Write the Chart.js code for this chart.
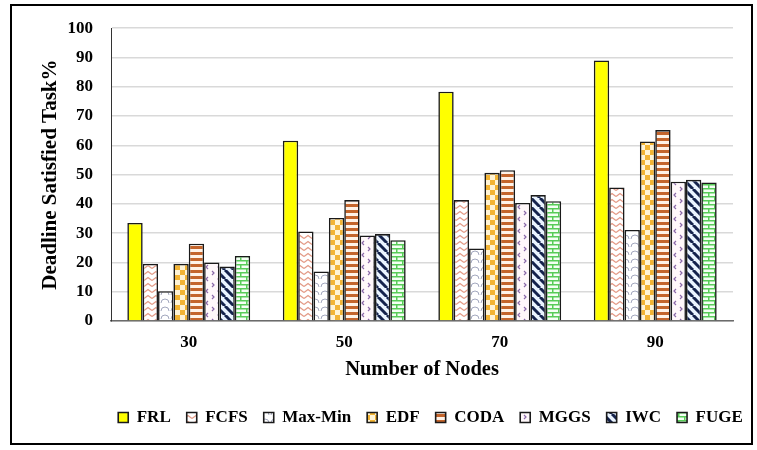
<!DOCTYPE html>
<html>
<head>
<meta charset="utf-8">
<script src="https://cdn.jsdelivr.net/npm/chart.js@4/dist/chart.umd.min.js"></script>
<style>
  html, body { margin: 0; padding: 0; background: #fff; }
  #wrap { width: 757px; height: 450px; position: relative; }
</style>
</head>
<body>
<div id="wrap"><canvas id="c" width="757" height="450"></canvas></div>
<script>
// Node counts on the x axis
const nodeCounts = ['30', '50', '70', '90'];

// Deadline satisfied task percentage per scheduler
const frl    = [33.5, 61.6, 78.3, 89.0];
const fcfs   = [19.5, 30.6, 41.3, 45.6];
const maxMin = [10.2, 16.9, 24.8, 31.1];
const edf    = [19.5, 35.2, 50.6, 61.3];
const coda   = [26.4, 41.3, 51.5, 65.2];
const mggs   = [20.0, 29.2, 40.3, 47.6];
const iwc    = [18.6, 29.7, 43.0, 48.2];
const fuge   = [22.2, 27.6, 40.9, 47.3];

const yMin = 0, yMax = 100, yStep = 10;

const FONT = "'Liberation Serif', 'Times New Roman', serif";
const canvas = document.getElementById('c');
const mainCtx = canvas.getContext('2d');

function makePattern(w, h, draw) {
  const c = document.createElement('canvas');
  c.width = w; c.height = h;
  const g = c.getContext('2d');
  draw(g, w, h);
  return mainCtx.createPattern(c, 'repeat');
}

// Fill patterns for each series
const zigzag = makePattern(8, 6, (g, w, h) => {
  g.fillStyle = '#fff'; g.fillRect(0, 0, w, h);
  g.strokeStyle = '#E39A86'; g.lineWidth = 1.3;
  g.beginPath(); g.moveTo(0, 4.5); g.lineTo(4, 1.5); g.lineTo(8, 4.5); g.stroke();
});
const scallop = makePattern(10, 8, (g, w, h) => {
  g.fillStyle = '#fff'; g.fillRect(0, 0, w, h);
  g.strokeStyle = '#A3A8BE'; g.lineWidth = 1;
  g.beginPath(); g.arc(5, 7, 4, Math.PI, 0); g.stroke();
});
const checker = makePattern(10, 10, (g, w, h) => {
  g.fillStyle = '#FFF4D6'; g.fillRect(0, 0, w, h);
  g.fillStyle = '#F2B435';
  g.fillRect(0, 0, 5, 5); g.fillRect(5, 5, 5, 5);
});
const hStripes = makePattern(4, 6, (g, w, h) => {
  g.fillStyle = '#FFF3E8'; g.fillRect(0, 0, w, h);
  g.fillStyle = '#C4652C'; g.fillRect(0, 0, w, 3);
});
const dots = makePattern(12, 12, (g, w, h) => {
  g.fillStyle = '#FFF8FA'; g.fillRect(0, 0, w, h);
  g.strokeStyle = '#8A68A8'; g.lineWidth = 1.2;
  g.beginPath(); g.moveTo(4, 1); g.lineTo(2, 3); g.lineTo(4, 5); g.stroke();
  g.beginPath(); g.moveTo(8, 7); g.lineTo(10, 9); g.lineTo(8, 11); g.stroke();
});
const diag = makePattern(9, 9, (g, w, h) => {
  g.fillStyle = '#EAF4FF'; g.fillRect(0, 0, w, h);
  g.strokeStyle = '#14224C'; g.lineWidth = 3;
  for (const k of [-9, 0, 9]) {
    g.beginPath(); g.moveTo(k, 0); g.lineTo(k + 9, 9); g.stroke();
  }
});
const bricks = makePattern(12, 8, (g, w, h) => {
  g.fillStyle = '#F4FFF4'; g.fillRect(0, 0, w, h);
  g.fillStyle = '#58CC58';
  g.fillRect(0, 0, w, 1.5); g.fillRect(0, 4, w, 1.5);
  g.fillRect(0, 0, 1.5, 4); g.fillRect(6, 4, 1.5, 4);
});

const BORDER = '#1a1a1a';
function series(label, data, fill) {
  return { label, data, backgroundColor: fill, borderColor: BORDER, borderWidth: 1.6,
           borderSkipped: 'bottom', categoryPercentage: 0.79, barPercentage: 1.0 };
}

// Outer frame around the figure
const framePlugin = {
  id: 'frame',
  afterDraw(chart) {
    const ctx = chart.ctx;
    ctx.save();
    ctx.strokeStyle = '#000';
    ctx.lineWidth = 2;
    ctx.strokeRect(11, 5, 741, 439);
    ctx.restore();
  }
};

// Moves the legend row to the right of centre
const legendShift = {
  id: 'legendShift',
  afterLayout(chart) {
    const lg = chart.legend;
    if (lg) { lg.left += 58; lg.right += 58; }
  }
};

new Chart(mainCtx, {
  type: 'bar',
  data: {
    labels: nodeCounts,
    datasets: [
      series('FRL', frl, '#FFFF00'),
      series('FCFS', fcfs, zigzag),
      series('Max-Min', maxMin, scallop),
      series('EDF', edf, checker),
      series('CODA', coda, hStripes),
      series('MGGS', mggs, dots),
      series('IWC', iwc, diag),
      series('FUGE', fuge, bricks)
    ]
  },
  options: {
    responsive: false,
    animation: false,
    layout: { padding: { left: 12, right: 24, top: 28, bottom: 14 } },
    plugins: {
      legend: {
        position: 'bottom',
        labels: {
          font: { family: FONT, size: 17, weight: 'bold' },
          color: '#000',
          boxWidth: 10,
          boxHeight: 10,
          padding: 16
        }
      },
      tooltip: { enabled: false }
    },
    scales: {
      x: {
        grid: { display: false, drawTicks: false },
        border: { color: '#6b6b6b', width: 1.5 },
        ticks: { font: { family: FONT, size: 17, weight: 'bold' }, color: '#000', padding: 11 },
        title: { display: true, text: 'Number of Nodes', color: '#000',
                 font: { family: FONT, size: 20.5, weight: 'bold' }, padding: { top: 0, bottom: 11 } },
        afterFit(scale) { scale.height = 72; }
      },
      y: {
        min: yMin, max: yMax,
        ticks: { stepSize: yStep, font: { family: FONT, size: 17, weight: 'bold' }, color: '#000', padding: 18 },
        grid: { color: '#D9D9D9', lineWidth: 1.5, drawTicks: false },
        border: { color: '#333', width: 1 },
        title: { display: true, text: 'Deadline Satisfied Task%', color: '#000',
                 font: { family: FONT, size: 21, weight: 'bold' }, padding: { top: 26, bottom: 0 } },
        afterFit(scale) { scale.width = 99; }
      }
    }
  },
  plugins: [legendShift, framePlugin]
});
</script>
</body>
</html>
